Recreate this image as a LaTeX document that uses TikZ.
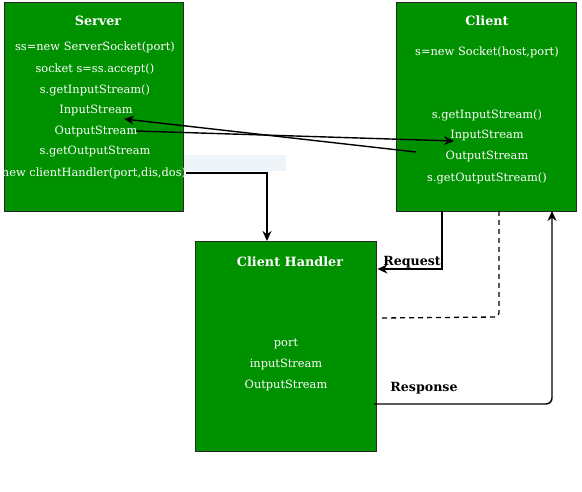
\documentclass[tikz,border=0pt]{standalone}
\usepackage{fontspec}
\setmainfont{DejaVu Serif}
\usetikzlibrary{
  arrows.meta,
  positioning,
  calc
}
\definecolor{boxGreen}{RGB}{0,145,0}
\definecolor{boxBorder}{RGB}{40,40,40}
\definecolor{paleBlue}{RGB}{238,244,248}
\tikzset{
  block/.style={
    draw=boxBorder,
    line width=1.4pt,
    fill=boxGreen,
    inner sep=0pt,
    anchor=north west
  },
  title/.style={text=white, inner sep=0pt, font=\fontsize{12.8}{15}\selectfont\bfseries},
  code/.style={text=white, inner sep=0pt, font=\fontsize{11.4}{13}\selectfont},
  tag/.style={inner sep=0pt, font=\fontsize{12.6}{15}\selectfont\bfseries},
  wire/.style={line width=1.4pt, -{Stealth[length=10pt,width=9pt]}}
}

\begin{document}
\begin{tikzpicture}[x=1pt,y=-1pt]
    \useasboundingbox (0,0) rectangle (582,492);

    \fill[paleBlue] (183,155) rectangle (286,171);

    % boxes
    \node[block, minimum width=179pt, minimum height=209pt] (server) at (4,2) {};
    \node[block, minimum width=180pt, minimum height=209pt] (client) at (396,2) {};
    \node[block, minimum width=181pt, minimum height=210pt] (handler) at (195,241) {};

    % server text
    \node[title] (srvTitle) at (98,21) {Server};
    \node[code] (srvSock)  at (95,47)  {ss=new ServerSocket(port)};
    \node[code] (srvAcc)   at (95,69)  {socket s=ss.accept()};
    \node[code] (srvGetIn) at (95,90)  {s.getInputStream()};
    \node[code] (srvIn)    at (96,110) {InputStream};
    \node[code] (srvOut)   at (96,131) {OutputStream};
    \node[code] (srvGetOut) at (95,152) {s.getOutputStream};
    \node[code] (srvNew)   at (94,173) {new clientHandler(port,dis,dos)};

    % client text
    \node[title] (cliTitle) at (487,21) {Client};
    \node[code] (cliSock)   at (487,52)  {s=new Socket(host,port)};
    \node[code] (cliGetIn)  at (487,115) {s.getInputStream()};
    \node[code] (cliIn)     at (487,135) {InputStream};
    \node[code] (cliOut)    at (487,156) {OutputStream};
    \node[code] (cliGetOut) at (487,178) {s.getOutputStream()};

    % handler text
    \node[title] (hdlTitle) at (290,262) {Client Handler};
    \node[code] (hdlPort) at (286,344) {port};
    \node[code] (hdlIn)   at (286,364) {inputStream};
    \node[code] (hdlOut)  at (286,385) {OutputStream};

    % stream links
    \coordinate (cliTail) at (416,152);
    \coordinate (srvInTip) at (124,119);
    \coordinate (srvOutTail) at (136,131);
    \coordinate (cliInTip) at (454,141);
    \draw[wire] (cliTail) -- (srvInTip);
    \draw[wire] (srvOutTail) -- (cliInTip);

    % server -> handler
    \draw[wire] (srvNew.east) -| (267,241);

    % request
    \draw[wire] (442,211) |- (handler.east |- 0,269);
    \node[tag] (request) at (412,262) {Request};

    % dashed return
    \draw[line width=1.3pt, dash pattern=on 5pt off 4pt, rounded corners=4pt]
      (499,211) -- (499,317) -- (380,318);

    % response
    \draw[wire, rounded corners=6pt]
      (374,404) -- (552,404) -- (552,211);
    \node[tag] (response) at (424,388) {Response};
\end{tikzpicture}
\end{document}
